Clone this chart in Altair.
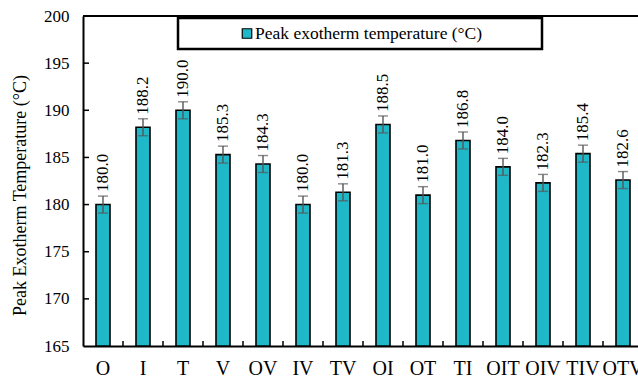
import altair as alt
import pandas as pd

# Peak exotherm temperature per formulation
categories = ["O", "I", "T", "V", "OV", "IV", "TV", "OI", "OT", "TI", "OIT", "OIV", "TIV", "OTV"]
peak_temp = [180.0, 188.2, 190.0, 185.3, 184.3, 180.0, 181.3, 188.5, 181.0, 186.8, 184.0, 182.3, 185.4, 182.6]
temp_err = [0.9, 0.9, 0.9, 0.9, 0.9, 0.9, 0.9, 0.9, 0.9, 0.9, 0.9, 0.9, 0.9, 0.9]
y_ticks = [170, 175, 180, 185, 190, 195]

FONT = "Liberation Serif"
BAR = "#1FB8C8"
Y_MIN, Y_MAX = 165, 200

df = pd.DataFrame({"cat": categories, "temp": peak_temp, "err": temp_err})
df["lo"] = df["temp"] - df["err"]
df["hi"] = df["temp"] + df["err"]
df["base"] = Y_MIN
df["label"] = df["temp"].map(lambda v: f"{v:.1f}")

x_scale = alt.Scale(domain=categories, range=[0, 560], paddingInner=0, paddingOuter=0)
y_scale = alt.Scale(domain=[Y_MIN, Y_MAX], nice=False, zero=False)

x_axis = alt.Axis(title=None, labelAngle=0, ticks=False, labelPadding=12,
                  labelFont=FONT, labelFontSize=20, labelColor="black",
                  labelOverlap=False, domainColor="black", domainWidth=2)
y_axis = alt.Axis(title="Peak Exotherm Temperature (°C)",
                  values=[165, 170, 175, 180, 185, 190, 195, 200],
                  ticks=False, grid=False, labelPadding=14,
                  labelFont=FONT, labelFontSize=17, labelColor="black",
                  domainColor="black", domainWidth=2,
                  titleFont=FONT, titleFontSize=18, titleFontWeight="normal", titleColor="black",
                  titleAngle=270, titleAlign="center", titleBaseline="middle",
                  titleX=-63, titleY=179)


def xe(**kw):
    return alt.X("cat:N", sort=categories, scale=x_scale, axis=x_axis, **kw)


def ye(field):
    return alt.Y(field, scale=y_scale, axis=y_axis)


base = alt.Chart(df)

bars = base.mark_bar(size=14, fill=BAR, stroke="black", strokeWidth=1.6).encode(
    x=xe(), y=ye("temp:Q"), y2="base:Q"
)

err_rule = base.mark_rule(color="#555555", strokeWidth=1.4).encode(
    x=xe(), y=ye("lo:Q"), y2="hi:Q"
)
err_lo = base.mark_tick(color="#555555", size=10, thickness=1.4, orient="horizontal").encode(
    x=xe(), y=ye("lo:Q")
)
err_hi = base.mark_tick(color="#555555", size=10, thickness=1.4, orient="horizontal").encode(
    x=xe(), y=ye("hi:Q")
)

labels = base.mark_text(angle=270, align="left", baseline="middle", yOffset=-4,
                        font=FONT, fontSize=17, color="black").encode(
    x=xe(), y=ye("hi:Q"), text="label:N"
)

# inward tick marks on both axes
xtick_df = pd.DataFrame({"cat": categories[1:]})
x_ticks = alt.Chart(xtick_df).mark_rule(color="black", strokeWidth=1.5).encode(
    x=xe(bandPosition=0),
    y=alt.value(330), y2=alt.value(325),
)
ytick_df = pd.DataFrame({"v": y_ticks})
y_tick_marks = alt.Chart(ytick_df).mark_rule(color="black", strokeWidth=1.5).encode(
    y=ye("v:Q"), x=alt.value(0), x2=alt.value(6),
)

# top frame line
one = pd.DataFrame({"k": [0]})
top_line = alt.Chart(one).mark_rule(color="black", strokeWidth=2).encode(
    x=alt.value(0), x2=alt.value(560), y=alt.value(0)
)

# legend box
leg_box = alt.Chart(one).mark_rect(fill="white", stroke="black", strokeWidth=2.5).encode(
    x=alt.value(95), x2=alt.value(459), y=alt.value(2), y2=alt.value(33)
)
leg_sym = alt.Chart(one).mark_point(shape="square", size=90, filled=True, fill=BAR,
                                    stroke="black", strokeWidth=1.2, opacity=1).encode(
    x=alt.value(164), y=alt.value(17.5)
)
leg_text = alt.Chart(one).mark_text(align="left", baseline="middle", font=FONT,
                                    fontSize=17.5, color="black").encode(
    x=alt.value(172), y=alt.value(18), text=alt.value("Peak exotherm temperature (°C)")
)

chart = alt.layer(
    bars, err_rule, err_lo, err_hi, labels, x_ticks, y_tick_marks, top_line,
    leg_box, leg_sym, leg_text,
).properties(
    width=555, height=330,
    autosize=alt.AutoSizeParams(type="none"),
    padding={"left": 83, "top": 16, "right": 0, "bottom": 31},
    background="white",
).configure_view(stroke=None)

chart.save("out.html", embed_options={"renderer": "svg", "actions": False})
